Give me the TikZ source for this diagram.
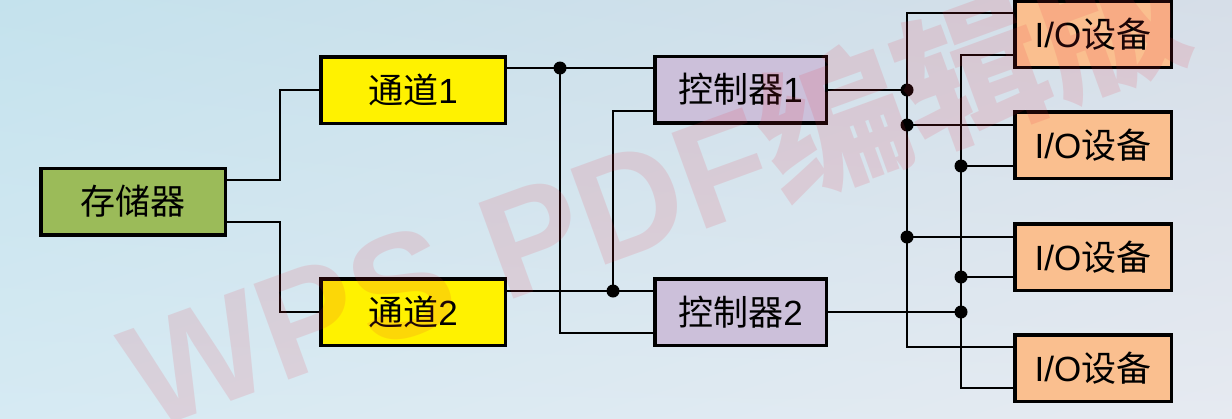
\documentclass[tikz,border=0pt]{standalone}
\usepackage{fontspec}
\setmainfont{Liberation Sans}
\newfontfamily\cjk{Noto Sans CJK SC}
\usetikzlibrary{shadings}
\definecolor{memgreen}{RGB}{155,187,89}
\definecolor{ctrlfill}{RGB}{204,192,218}
\definecolor{iofill}{RGB}{250,191,143}
\definecolor{bgul}{RGB}{196,226,237}
\definecolor{bgur}{RGB}{214,222,232}
\definecolor{bgll}{RGB}{214,234,243}
\definecolor{bglr}{RGB}{230,234,241}
\definecolor{wmred}{RGB}{235,40,60}
\begin{document}
\begin{tikzpicture}[x=1pt,y=-1pt,
  box/.style={draw=black, line width=3.5pt, minimum height=66.5pt, inner sep=0pt,
              font=\fontsize{35}{35}\selectfont},
  wire/.style={line width=2.2pt},
  jdot/.style={circle, fill=black, inner sep=0pt, minimum size=13pt}]
\useasboundingbox (0,0) rectangle (1232,418);
\clip (0,0) rectangle (1232,418);
\shade[upper left=bgul, upper right=bgur, lower left=bgll, lower right=bglr] (0,0) rectangle (1232,418);

% boxes
\node[box, fill=memgreen, minimum width=184.5pt] (mem) at (133,201.5) {{\cjk 存储器}};
\node[box, fill=yellow, minimum width=184.5pt] (ch1) at (413,90) {{\cjk 通道}1};
\node[box, fill=yellow, minimum width=184.5pt] (ch2) at (413,312) {{\cjk 通道}2};
\node[box, fill=ctrlfill, minimum width=171.5pt] (c1) at (740.5,89.5) {{\cjk 控制器}1};
\node[box, fill=ctrlfill, minimum width=171.5pt] (c2) at (740.5,312) {{\cjk 控制器}2};
\node[box, fill=iofill, minimum width=156.5pt] (io1) at (1093,34) {I/O{\cjk 设备}};
\node[box, fill=iofill, minimum width=156.5pt] (io2) at (1093,145) {I/O{\cjk 设备}};
\node[box, fill=iofill, minimum width=156.5pt] (io3) at (1093,257) {I/O{\cjk 设备}};
\node[box, fill=iofill, minimum width=156.5pt] (io4) at (1093,368) {I/O{\cjk 设备}};

% junction coordinates
\coordinate (j1) at (560,68);
\coordinate (j2) at (613,291);
\coordinate (a0) at (907,13);
\coordinate (a1) at (907,90);
\coordinate (a2) at (907,125);
\coordinate (a3) at (907,237);
\coordinate (a4) at (907,347);
\coordinate (b0) at (961,55);
\coordinate (b1) at (961,166);
\coordinate (b2) at (961,277);
\coordinate (b3) at (961,312);
\coordinate (b4) at (961,388);

% memory to channels
\draw[wire] (mem.east |- 0,180) -- (280,180) |- (ch1.west);
\draw[wire] (mem.east |- 0,222) -- (280,222) |- (ch2.west);
% channels to controllers
\draw[wire] (ch1.east |- j1) -- (c1.west |- j1);
\draw[wire] (j1) |- (c2.west |- 0,333);
\draw[wire] (ch2.east |- j2) -- (c2.west |- j2);
\draw[wire] (c1.west |- 0,111) -| (j2);
% controllers to buses
\draw[wire] (c1.east |- a1) -- (a1);
\draw[wire] (c2.east |- b3) -- (b3);
% bus A
\draw[wire] (io1.west |- a0) -- (a0) -- (a4) -- (io4.west |- a4);
\draw[wire] (a2) -- (io2.west |- a2);
\draw[wire] (a3) -- (io3.west |- a3);
% bus B
\draw[wire] (io1.west |- b0) -- (b0) -- (b4) -- (io4.west |- b4);
\draw[wire] (b1) -- (io2.west |- b1);
\draw[wire] (b2) -- (io3.west |- b2);

% dots
\foreach \p in {j1,j2,a1,a2,a3,b1,b2,b3}
  \node[jdot] at (\p) {};

% watermark
\node[rotate=20, text=wmred, opacity=0.13, font=\fontsize{148}{148}\selectfont\bfseries] (wm) at (655,188) {WPS PDF{\cjk 编辑版}};
\end{tikzpicture}
\end{document}
